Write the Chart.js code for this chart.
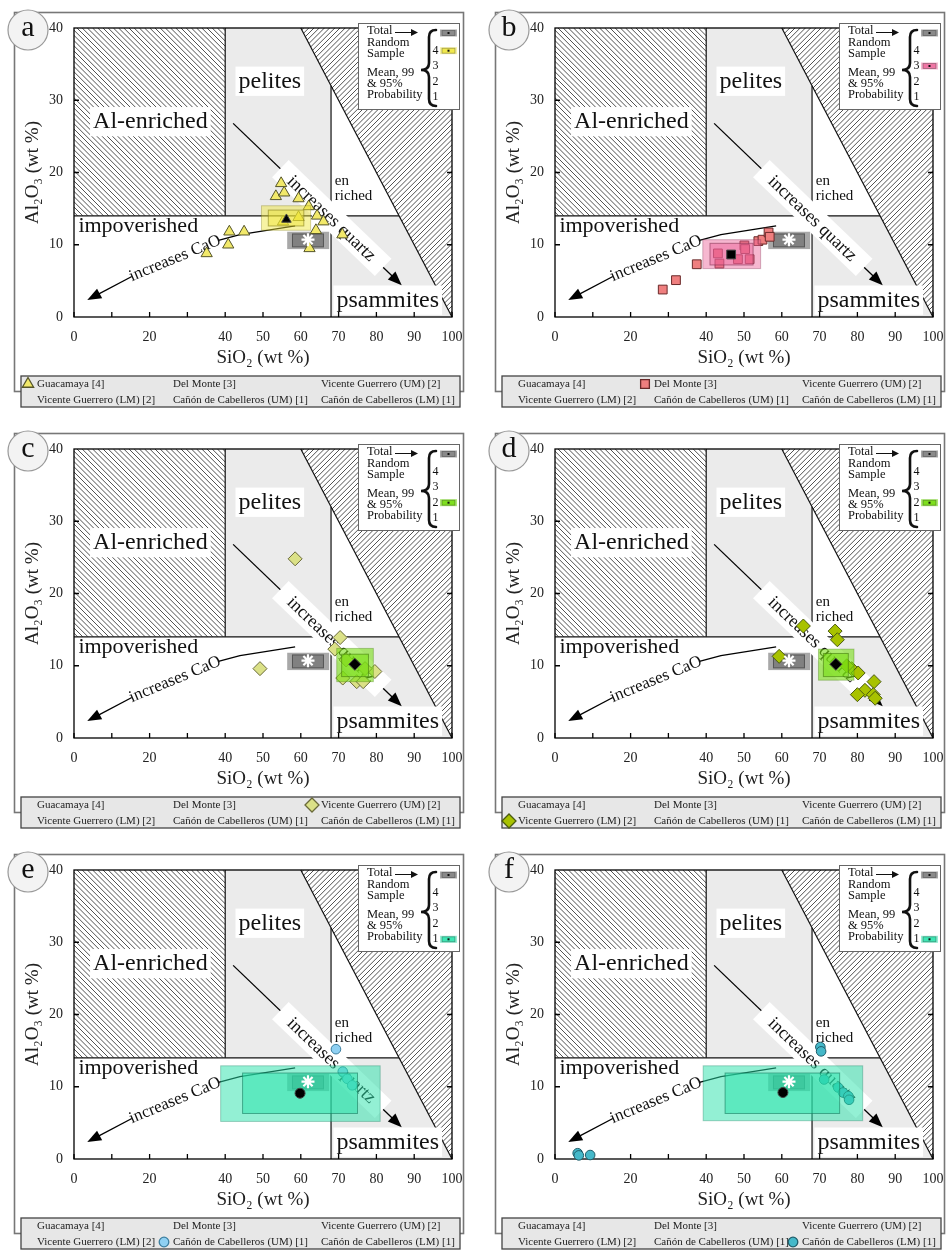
<!DOCTYPE html>
<html><head><meta charset="utf-8">
<script src="https://cdn.jsdelivr.net/npm/chart.js@4/dist/chart.umd.min.js"></script>
<style>
html,body{margin:0;padding:0;background:#fff;overflow:hidden;width:946px;height:1252px;position:relative;}
canvas{position:absolute;}
</style></head><body>
<script>
// ---------------- DATA ----------------
const xTickLabelled = [0, 20, 40, 50, 60, 70, 80, 90, 100];
const panelLetters = ['a', 'b', 'c', 'd', 'e', 'f'];
const legendNames = ['Guacamaya [4]', 'Del Monte [3]', 'Vicente Guerrero (UM) [2]',
  'Vicente Guerrero (LM) [2]', 'Cañón de Cabelleros (UM) [1]', 'Cañón de Cabelleros (LM) [1]'];
const probabilityRank = [4, 3, 2, 2, 1, 1];

const guacamayaSiO2  = [54.8, 53.4, 55.6, 59.4, 62.1, 64.3, 66.0, 64.0, 62.3, 59.4, 55.3, 41.1, 45.0, 40.8, 35.1, 71.0];
const guacamayaAl2O3 = [18.5, 16.7, 17.2, 16.4, 15.3, 14.0, 13.2, 12.0, 9.5, 13.8, 13.2, 11.8, 11.8, 10.0, 8.8, 11.4];

const delMonteSiO2  = [28.5, 32.0, 37.5, 43.1, 43.5, 48.4, 51.5, 50.1, 50.3, 53.8, 54.9, 56.5, 56.8];
const delMonteAl2O3 = [3.8, 5.1, 7.3, 8.8, 7.4, 8.0, 8.0, 9.9, 9.4, 10.5, 10.7, 11.7, 11.1];

const vgUMSiO2  = [58.5, 49.2, 70.4, 69.0, 71.1, 74.8, 76.5, 79.6, 77.0, 72.0];
const vgUMAl2O3 = [24.8, 9.6, 13.9, 12.3, 8.3, 7.8, 7.8, 9.2, 9.6, 10.8];

const vgLMSiO2  = [65.7, 74.1, 74.7, 59.3, 78.5, 80.2, 84.4, 82.0, 80.0, 84.2, 84.7, 77.2];
const vgLMAl2O3 = [15.5, 14.8, 13.6, 11.3, 9.6, 9.0, 7.8, 6.6, 6.0, 6.0, 5.5, 10.0];

const ccUMSiO2  = [69.3, 71.1, 72.3, 73.6];
const ccUMAl2O3 = [15.2, 12.1, 11.1, 10.2];

const ccLMSiO2  = [70.2, 70.4, 6.0, 6.3, 9.3, 71.2, 74.9, 76.2, 77.6, 77.8];
const ccLMAl2O3 = [15.5, 14.9, 0.8, 0.5, 0.55, 11.0, 9.9, 9.2, 8.7, 8.2];

// group means and their 95% (outer) / 99% (inner) probability boxes [min, max]
const meanSiO2  = [56.2, 46.6, 74.3, 74.3, 59.8, 60.3];
const meanAl2O3 = [13.5, 8.65, 10.2, 10.2, 9.1, 9.2];
const outerBoxSiO2  = [[49.6, 62.6], [39.1, 54.4], [69.5, 79.2], [69.7, 79.1], [38.8, 81.0], [39.2, 81.4]];
const outerBoxAl2O3 = [[12.0, 15.4], [6.7, 10.7], [7.8, 12.4], [8.0, 12.3], [5.2, 12.9], [5.3, 12.9]];
const innerBoxSiO2  = [[51.4, 60.8], [41.0, 52.4], [70.8, 77.9], [71.0, 77.6], [44.6, 75.0], [45.0, 75.3]];
const innerBoxAl2O3 = [[12.6, 14.8], [7.2, 10.2], [8.5, 11.6], [8.5, 11.7], [6.3, 11.9], [6.3, 11.9]];

// total random sample
const totalSiO2 = 61.9, totalAl2O3 = 10.7;
const totalOuterSiO2 = [56.4, 67.5], totalOuterAl2O3 = [9.4, 11.8];
const totalInnerSiO2 = [57.8, 66.0], totalInnerAl2O3 = [9.7, 11.5];

// classification fields (SiO2, Al2O3 vertices)
const pelitesField    = [[40, 14], [40, 40], [60, 40], [68, 32], [68, 14]];
const psammitesField  = [[68, 0], [68, 14], [86, 14], [100, 0]];
const alEnrichedField = [[0, 14], [0, 40], [40, 40], [40, 14]];
const excludedField   = [[60, 40], [100, 40], [100, 0]];
const quartzTrend = [[42.1, 26.8], [86.7, 4.4]];
const caoTrendUpper = [[58.5, 12.6], [51.0, 12.0], [43.9, 11.4], [38.2, 10.6]];
const caoTrendLower = [[15.3, 5.6], [3.5, 2.35]];

// ---------------- STYLE / LAYOUT ----------------
const SERIF = '"Liberation Serif", "DejaVu Serif", serif';
const PANEL_POS = [[0, 0], [481, 0], [0, 421], [481, 421], [0, 842], [481, 842]];
const panelStyle = [
  {sx: guacamayaSiO2, sy: guacamayaAl2O3, shape: 'triangle', r: 6.5, fill: '#f2e96a', stroke: '#55552a', meanR: 5.5, box: [238, 228, 50], boxA: 0.45},
  {sx: delMonteSiO2, sy: delMonteAl2O3, shape: 'rect', r: 6.2, fill: '#ef7f7f', stroke: '#6a2a2a', meanR: 6.2, box: [236, 95, 150], boxA: 0.45},
  {sx: vgUMSiO2, sy: vgUMAl2O3, shape: 'rectRot', r: 7, fill: '#dbe187', stroke: '#6a6a3a', meanR: 6, box: [120, 222, 20], boxA: 0.6},
  {sx: vgLMSiO2, sy: vgLMAl2O3, shape: 'rectRot', r: 7, fill: '#a8c200', stroke: '#4a5a10', meanR: 6, box: [120, 222, 20], boxA: 0.6},
  {sx: ccUMSiO2, sy: ccUMAl2O3, shape: 'circle', r: 4.8, fill: '#8fd0f2', stroke: '#3d7fa0', meanR: 5, box: [40, 226, 170], boxA: 0.5},
  {sx: ccLMSiO2, sy: ccLMAl2O3, shape: 'circle', r: 4.8, fill: '#45b8c9', stroke: '#1f5d6a', meanR: 5, box: [40, 226, 170], boxA: 0.5}
];
const rgba = (c, a) => `rgba(${c[0]},${c[1]},${c[2]},${a})`;

Chart.defaults.font.family = SERIF;

function hatch(ctx, a, pathFn, dir) {
  ctx.save();
  pathFn(); ctx.clip();
  ctx.beginPath();
  ctx.strokeStyle = '#333'; ctx.lineWidth = 0.85;
  const H = a.bottom - a.top;
  for (let k = -H - 20; k < a.right - a.left + H + 20; k += 5.2) {
    if (dir > 0) { ctx.moveTo(a.left + k, a.bottom); ctx.lineTo(a.left + k + H, a.top); }
    else { ctx.moveTo(a.left + k, a.top); ctx.lineTo(a.left + k + H, a.bottom); }
  }
  ctx.stroke();
  ctx.restore();
}

function arrowHead(ctx, x0, y0, x1, y1, len, half) {
  const ang = Math.atan2(y1 - y0, x1 - x0), c = Math.cos(ang), s = Math.sin(ang);
  ctx.beginPath();
  ctx.moveTo(x1, y1);
  ctx.lineTo(x1 - len * c + half * s, y1 - len * s - half * c);
  ctx.lineTo(x1 - len * c - half * s, y1 - len * s + half * c);
  ctx.closePath(); ctx.fill();
}

function drawFields(chart, i) {
  const ctx = chart.ctx, a = chart.chartArea;
  const X = v => chart.scales.x.getPixelForValue(v), Y = v => chart.scales.y.getPixelForValue(v);
  const path = pts => { ctx.beginPath(); pts.forEach((p, k) => k ? ctx.lineTo(X(p[0]), Y(p[1])) : ctx.moveTo(X(p[0]), Y(p[1]))); ctx.closePath(); };
  ctx.save();
  ctx.fillStyle = '#fff'; ctx.fillRect(a.left, a.top, a.right - a.left, a.bottom - a.top);
  ctx.fillStyle = '#ebebeb'; path(pelitesField); ctx.fill(); path(psammitesField); ctx.fill();
  hatch(ctx, a, () => path(alEnrichedField), -1);
  hatch(ctx, a, () => path(excludedField), 1);
  // boundaries
  ctx.strokeStyle = '#111'; ctx.lineWidth = 1.2;
  const seg = (x0, y0, x1, y1) => { ctx.beginPath(); ctx.moveTo(X(x0), Y(y0)); ctx.lineTo(X(x1), Y(y1)); ctx.stroke(); };
  seg(60, 40, 100, 0); seg(0, 14, 86, 14); seg(40, 14, 40, 40); seg(68, 0, 68, 32);
  // field labels
  const label = (t, x, y, size, bg) => {
    ctx.font = size + 'px ' + SERIF;
    const w = ctx.measureText(t).width;
    if (bg) { ctx.fillStyle = '#fff'; ctx.fillRect(X(x) - w / 2 - 3, Y(y) - size * 0.62, w + 6, size * 1.22); }
    ctx.fillStyle = '#111'; ctx.textAlign = 'center'; ctx.textBaseline = 'middle';
    ctx.fillText(t, X(x), Y(y));
  };
  label('pelites', 51.8, 32.6, 24, true);
  label('Al-enriched', 20.2, 27.0, 24, true);
  label('impoverished', 17.0, 12.5, 22, false);
  label('psammites', 83.0, 2.3, 24, true);
  ctx.font = '15px ' + SERIF; ctx.textAlign = 'left'; ctx.textBaseline = 'middle'; ctx.fillStyle = '#111';
  ctx.fillText('en', X(69.0), Y(18.8)); ctx.fillText('riched', X(69.0), Y(16.7));
  // quartz trend arrow with label band
  ctx.fillStyle = '#000'; ctx.strokeStyle = '#000'; ctx.lineWidth = 1.3;
  const q0x = X(quartzTrend[0][0]), q0y = Y(quartzTrend[0][1]), q1x = X(quartzTrend[1][0]), q1y = Y(quartzTrend[1][1]);
  const qa = Math.atan2(q1y - q0y, q1x - q0x), qlen = Math.hypot(q1x - q0x, q1y - q0y);
  ctx.beginPath(); ctx.moveTo(q0x, q0y); ctx.lineTo(q1x - 10 * Math.cos(qa), q1y - 10 * Math.sin(qa)); ctx.stroke();
  arrowHead(ctx, q0x, q0y, q1x, q1y, 14, 5.5);
  ctx.save();
  ctx.translate(q0x + (q1x - q0x) * 0.585, q0y + (q1y - q0y) * 0.585);
  ctx.rotate(qa);
  ctx.fillStyle = '#fff'; ctx.fillRect(-qlen * 0.305, -12, qlen * 0.61, 24);
  ctx.fillStyle = '#111'; ctx.font = '18px ' + SERIF; ctx.textAlign = 'center'; ctx.textBaseline = 'middle';
  ctx.fillText('increases quartz', 0, 1);
  ctx.restore();
  // CaO trend
  ctx.beginPath();
  caoTrendUpper.forEach((p, k) => k ? ctx.lineTo(X(p[0]), Y(p[1])) : ctx.moveTo(X(p[0]), Y(p[1])));
  ctx.stroke();
  const c0x = X(caoTrendLower[0][0]), c0y = Y(caoTrendLower[0][1]), c1x = X(caoTrendLower[1][0]), c1y = Y(caoTrendLower[1][1]);
  const ca = Math.atan2(c1y - c0y, c1x - c0x);
  ctx.beginPath(); ctx.moveTo(c0x, c0y); ctx.lineTo(c1x - 10 * Math.cos(ca), c1y - 10 * Math.sin(ca)); ctx.stroke();
  arrowHead(ctx, c0x, c0y, c1x, c1y, 14, 5.5);
  ctx.save();
  const u = caoTrendUpper[caoTrendUpper.length - 1];
  const tx0 = c0x, ty0 = c0y, tx1 = X(u[0]), ty1 = Y(u[1]);
  ctx.translate((tx0 + tx1) / 2, (ty0 + ty1) / 2);
  ctx.rotate(Math.atan2(ty1 - ty0, tx1 - tx0));
  ctx.fillStyle = '#111'; ctx.font = '17px ' + SERIF; ctx.textAlign = 'center'; ctx.textBaseline = 'middle';
  ctx.fillText('increases CaO', 0, 0);
  ctx.restore();
  // total random sample box
  ctx.fillStyle = 'rgba(110,110,110,0.6)';
  ctx.fillRect(X(totalOuterSiO2[0]), Y(totalOuterAl2O3[1]), X(totalOuterSiO2[1]) - X(totalOuterSiO2[0]), Y(totalOuterAl2O3[0]) - Y(totalOuterAl2O3[1]));
  ctx.fillStyle = 'rgba(90,90,90,0.5)'; ctx.strokeStyle = 'rgba(60,60,60,0.7)'; ctx.lineWidth = 1;
  const ix = X(totalInnerSiO2[0]), iy = Y(totalInnerAl2O3[1]), iw = X(totalInnerSiO2[1]) - ix, ih = Y(totalInnerAl2O3[0]) - iy;
  ctx.fillRect(ix, iy, iw, ih); ctx.strokeRect(ix, iy, iw, ih);
  // frame + inward ticks
  ctx.strokeStyle = '#000'; ctx.lineWidth = 1.3;
  ctx.strokeRect(a.left, a.top, a.right - a.left, a.bottom - a.top);
  ctx.beginPath();
  chart.scales.x.ticks.forEach(t => { const x = X(t.value); ctx.moveTo(x, a.bottom); ctx.lineTo(x, a.bottom - 5); });
  chart.scales.y.ticks.forEach(t => {
    if (t.value <= 0 || t.value >= 40) return;
    const y = Y(t.value); ctx.moveTo(a.left, y); ctx.lineTo(a.left + 5, y); ctx.moveTo(a.right, y); ctx.lineTo(a.right - 5, y);
  });
  ctx.stroke();
  ctx.restore();
}

function drawBoxes(chart, i) {
  const ctx = chart.ctx, P = panelStyle[i];
  const X = v => chart.scales.x.getPixelForValue(v), Y = v => chart.scales.y.getPixelForValue(v);
  ctx.save();
  const rect = (sx, sy, strokeA) => {
    const x = X(sx[0]), y = Y(sy[1]), w = X(sx[1]) - x, h = Y(sy[0]) - y;
    ctx.fillStyle = rgba(P.box, P.boxA); ctx.fillRect(x, y, w, h);
    ctx.strokeStyle = `rgba(${Math.round(P.box[0] * 0.55)},${Math.round(P.box[1] * 0.55)},${Math.round(P.box[2] * 0.55)},${strokeA})`;
    ctx.lineWidth = 1; ctx.strokeRect(x, y, w, h);
  };
  rect(outerBoxSiO2[i], outerBoxAl2O3[i], 0.35);
  rect(innerBoxSiO2[i], innerBoxAl2O3[i], 0.6);
  ctx.restore();
}

function drawOverlay(chart, i) {
  const ctx = chart.ctx, a = chart.chartArea, P = panelStyle[i];
  const R = a.right, T = a.top;
  ctx.save();
  // inset legend
  const bx = R - 94, by = T - 5, bw = 101, bh = 86;
  ctx.fillStyle = '#fff'; ctx.fillRect(bx, by, bw, bh);
  ctx.strokeStyle = '#666'; ctx.lineWidth = 1; ctx.strokeRect(bx + 0.5, by + 0.5, bw, bh);
  ctx.fillStyle = '#111'; ctx.font = '12.5px ' + SERIF; ctx.textAlign = 'left'; ctx.textBaseline = 'alphabetic';
  const lines = [['Total', 6], ['Random', 17.5], ['Sample', 28.5], ['Mean, 99', 47.5], ['& 95%', 59], ['Probability', 70]];
  lines.forEach(l => ctx.fillText(l[0], bx + 9, T + l[1]));
  ctx.strokeStyle = '#111'; ctx.lineWidth = 1;
  ctx.beginPath(); ctx.moveTo(R - 57, T + 4.5); ctx.lineTo(R - 40, T + 4.5); ctx.stroke();
  arrowHead(ctx, R - 57, T + 4.5, R - 34, T + 4.5, 7, 3.5);
  // brace
  ctx.lineWidth = 2.6; ctx.lineCap = 'round';
  const xb = R - 23, xt = R - 31, xe = R - 16, top = T + 2, mid = T + 42, bot = T + 78;
  ctx.beginPath();
  ctx.moveTo(xe, top); ctx.quadraticCurveTo(xb, top, xb, top + 7);
  ctx.lineTo(xb, mid - 7); ctx.quadraticCurveTo(xb, mid, xt, mid);
  ctx.quadraticCurveTo(xb, mid, xb, mid + 7); ctx.lineTo(xb, bot - 7);
  ctx.quadraticCurveTo(xb, bot, xe, bot);
  ctx.stroke();
  ctx.font = '12px ' + SERIF; ctx.textAlign = 'center'; ctx.textBaseline = 'middle';
  const rankY = {4: 22.7, 3: 38, 2: 53.7, 1: 69.3};
  [4, 3, 2, 1].forEach(n => ctx.fillText(String(n), R - 16.5, T + rankY[n]));
  const icon = (cy, outer, inner) => {
    ctx.fillStyle = outer; ctx.fillRect(R - 12, cy - 3.5, 17, 7);
    ctx.fillStyle = inner; ctx.fillRect(R - 10, cy - 2.5, 13, 5);
    ctx.strokeStyle = 'rgba(0,0,0,0.35)'; ctx.lineWidth = 0.8; ctx.strokeRect(R - 10, cy - 2.5, 13, 5);
    ctx.fillStyle = '#111'; ctx.fillRect(R - 4.5, cy - 1, 2, 2);
  };
  icon(T + 5, '#a8a8a8', '#8a8a8a');
  icon(T + rankY[probabilityRank[i]], rgba(P.box, P.boxA), rgba(P.box, Math.min(1, P.boxA + 0.3)));
  // bottom legend
  const lx = 21, ly = 376, lw = 439, lh = 31;
  ctx.fillStyle = '#e7e7e7'; ctx.fillRect(lx, ly, lw, lh);
  ctx.strokeStyle = '#444'; ctx.lineWidth = 1.3; ctx.strokeRect(lx, ly, lw, lh);
  ctx.font = '11px ' + SERIF; ctx.textAlign = 'left'; ctx.textBaseline = 'middle'; ctx.fillStyle = '#222';
  const colX = [37, 173, 321], rowY = [384, 400];
  legendNames.forEach((n, k) => {
    const tx = colX[k % 3], ty = rowY[Math.floor(k / 3)];
    ctx.fillStyle = '#222'; ctx.fillText(n, tx, ty);
    if (k === i) {
      ctx.fillStyle = P.fill; ctx.strokeStyle = P.stroke;
      Chart.helpers.drawPoint(ctx, {pointStyle: P.shape, radius: P.r, rotation: 0, borderWidth: 1}, tx - 9, ty);
    }
  });
  // panel badge
  ctx.beginPath(); ctx.arc(28, 30, 20, 0, Math.PI * 2);
  ctx.fillStyle = '#f3f3f3'; ctx.fill(); ctx.strokeStyle = '#999'; ctx.lineWidth = 1.2; ctx.stroke();
  ctx.fillStyle = '#111'; ctx.font = '30px ' + SERIF; ctx.textAlign = 'center'; ctx.textBaseline = 'middle';
  ctx.fillText(panelLetters[i], 28, 28);
  ctx.restore();
}

function makePanel(i) {
  const P = panelStyle[i];
  const cv = document.createElement('canvas');
  cv.width = 465; cv.height = 410;
  cv.style.left = PANEL_POS[i][0] + 'px'; cv.style.top = PANEL_POS[i][1] + 'px';
  cv.style.width = '465px'; cv.style.height = '410px';
  document.body.appendChild(cv);
  new Chart(cv, {
    type: 'scatter',
    data: {datasets: [
      {data: P.sx.map((v, k) => ({x: v, y: P.sy[k]})), pointStyle: P.shape, pointRadius: P.r,
       backgroundColor: P.fill, borderColor: P.stroke, borderWidth: 1, order: 3, clip: false},
      {data: [{x: meanSiO2[i], y: meanAl2O3[i]}], pointStyle: P.shape, pointRadius: P.meanR,
       backgroundColor: '#000', borderColor: '#444', borderWidth: 1, order: 2, clip: false},
      {data: [{x: totalSiO2, y: totalAl2O3}], pointStyle: 'star', pointRadius: 6.5,
       backgroundColor: '#fff', borderColor: '#fff', borderWidth: 2.2, order: 1, clip: false}
    ]},
    options: {
      responsive: false, animation: false, devicePixelRatio: 1, events: [],
      layout: {padding: {left: 0, top: 28, right: 13, bottom: 33}},
      plugins: {legend: {display: false}, tooltip: {enabled: false}},
      scales: {
        x: {type: 'linear', min: 0, max: 100,
            afterFit(s) { s.height = 60; s.paddingLeft = 0; s.paddingRight = 0; },
            grid: {display: false, drawTicks: false}, border: {display: false},
            ticks: {stepSize: 10, padding: 12, autoSkip: false, maxRotation: 0, color: '#222',
                    font: {family: SERIF, size: 14}, callback: v => xTickLabelled.includes(v) ? String(v) : ''},
            title: {display: true, text: 'SiO₂ (wt %)', color: '#222', font: {family: SERIF, size: 19}, padding: {top: 0, bottom: 8}}},
        y: {type: 'linear', min: 0, max: 40,
            afterFit(s) { s.width = 74; s.paddingTop = 0; s.paddingBottom = 0; },
            grid: {display: false, drawTicks: false}, border: {display: false},
            ticks: {stepSize: 10, padding: 11, color: '#222', font: {family: SERIF, size: 14}},
            title: {display: true, text: 'Al₂O₃ (wt %)', color: '#222', font: {family: SERIF, size: 19}, padding: {top: 22, bottom: 0}}}
      }
    },
    plugins: [{
      id: 'deco' + i,
      beforeDraw(chart) {
        const c = chart.ctx; c.save(); c.strokeStyle = '#777'; c.lineWidth = 1.6; c.strokeRect(14.5, 12.5, 449, 379); c.restore();
      },
      beforeDatasetsDraw(chart) { drawFields(chart, i); },
      afterDatasetDraw(chart, args) { if (args.index === 0) drawBoxes(chart, i); },
      afterDraw(chart) { drawOverlay(chart, i); }
    }]
  });
}
for (let i = 0; i < 6; i++) makePanel(i);
</script>
</body></html>
